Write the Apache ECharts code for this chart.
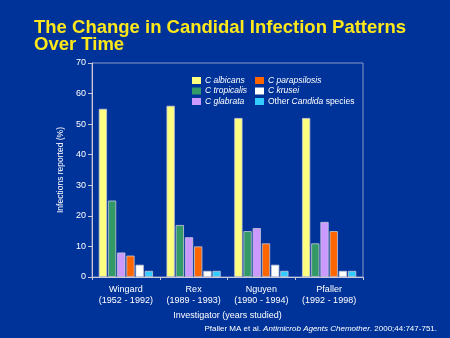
<!DOCTYPE html>
<html><head><meta charset="utf-8">
<script src="https://cdn.jsdelivr.net/npm/echarts@6/dist/echarts.min.js"></script>
<style>html,body{margin:0;padding:0;background:#003399;}#c{width:450px;height:338px;}</style>
</head><body><div id="c"></div>
<script>
var categories = ['Wingard\n(1952 - 1992)', 'Rex\n(1989 - 1993)', 'Nguyen\n(1990 - 1994)', 'Pfaller\n(1992 - 1998)'];
var seriesNames = ['C albicans', 'C tropicalis', 'C glabrata', 'C parapsilosis', 'C krusei', 'Other Candida species'];
var albicans = [55, 56, 52, 52];
var tropicalis = [25, 17, 15, 11];
var glabrata = [8, 13, 16, 18];
var parapsilosis = [7, 10, 11, 15];
var krusei = [4, 2, 4, 2];
var other = [2, 2, 2, 2];
var yTicks = [0, 10, 20, 30, 40, 50, 60, 70];

var colors = ['#ffff80', '#339966', '#cc99ff', '#ff6600', '#ffffff', '#33ccff'];
var values = [albicans, tropicalis, glabrata, parapsilosis, krusei, other];
var font = 'Liberation Sans, Arial, sans-serif';

var chart = echarts.init(document.getElementById('c'), null, {renderer: 'canvas'});
var series = seriesNames.map(function (n, i) {
  return {
    name: n, type: 'bar', data: values[i],
    barGap: '12%', barCategoryGap: '20%',
    itemStyle: {color: colors[i], borderColor: '#c8c8d8', borderWidth: 0.8},
    emphasis: {disabled: true}
  };
});

function legendFmt(name) {
  if (name === 'Other Candida species') return 'Other {i|Candida} species';
  return '{i|' + name + '}';
}
var legendBase = {
  orient: 'vertical', itemWidth: 9, itemHeight: 7, itemGap: 1.5,
  icon: 'rect', formatter: legendFmt, selectedMode: false,
  itemStyle: {borderWidth: 0},
  textStyle: {color: '#ffffff', fontFamily: font, fontSize: 8.5, padding: [0, 0, 0, -1],
    rich: {i: {fontStyle: 'italic', color: '#ffffff', fontFamily: font, fontSize: 8.5}}}
};

chart.setOption({
  backgroundColor: '#003399',
  animation: false,
  title: [{
    text: 'The Change in Candidal Infection Patterns\nOver Time',
    left: 29, top: 14,
    textStyle: {color: '#ffe81a', fontFamily: font, fontWeight: 'bold', fontSize: 18.5, lineHeight: 17}
  }, {
    text: 'Pfaller MA et al. {i|Antimicrob Agents Chemother}. 2000;44:747-751.',
    right: 8, bottom: 0,
    textStyle: {color: '#ffffff', fontFamily: font, fontSize: 8, fontWeight: 'normal',
      rich: {i: {fontStyle: 'italic', color: '#ffffff', fontFamily: font, fontSize: 8}}}
  }],
  legend: [
    Object.assign({}, legendBase, {left: 187, top: 71, data: seriesNames.slice(0, 3)}),
    Object.assign({}, legendBase, {left: 250, top: 71, data: seriesNames.slice(3, 6)})
  ],
  grid: {left: 92, right: 87, top: 63, bottom: 61, show: true, borderColor: '#8c9bc8', borderWidth: 1, backgroundColor: 'transparent'},
  xAxis: {
    type: 'category', data: categories,
    name: 'Investigator (years studied)', nameLocation: 'middle', nameGap: 33,
    nameTextStyle: {color: '#ffffff', fontFamily: font, fontSize: 9},
    axisLine: {lineStyle: {color: '#c8c8d8', width: 1}},
    axisTick: {show: true, inside: false, length: 3, lineStyle: {color: '#c8c8d8'}},
    axisLabel: {color: '#ffffff', fontFamily: font, fontSize: 9, lineHeight: 11, margin: 7, interval: 0}
  },
  yAxis: {
    type: 'value', min: 0, max: 70, interval: 10,
    name: 'Infections reported (%)', nameLocation: 'middle', nameGap: 26, nameRotate: 90,
    nameTextStyle: {color: '#ffffff', fontFamily: font, fontSize: 8.5},
    axisLine: {show: true, lineStyle: {color: '#c8c8d8', width: 1}},
    axisTick: {show: true, length: 4, lineStyle: {color: '#c8c8d8'}},
    splitLine: {show: false},
    axisLabel: {color: '#ffffff', fontFamily: font, fontSize: 9, margin: 6,
      formatter: function (v) { return yTicks.indexOf(v) >= 0 ? String(v) : ''; }}
  },
  series: series
});
</script></body></html>
